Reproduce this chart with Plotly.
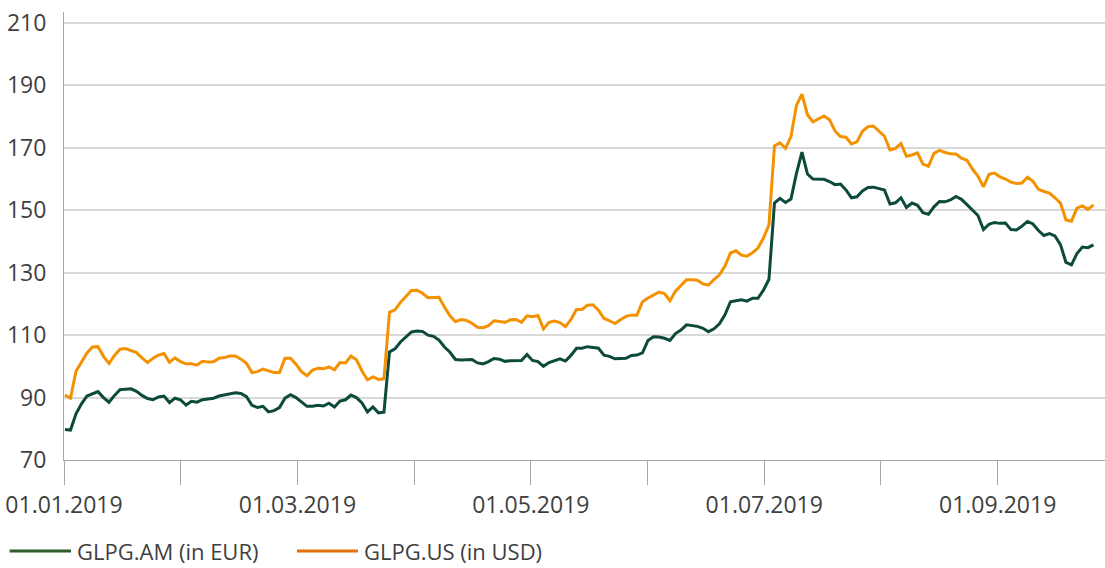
import plotly.graph_objects as go

# ---- data, one value per trading day ----
series_names = ["GLPG.AM (in EUR)", "GLPG.US (in USD)"]

glpg_am = [
    79.8, 79.6, 84.8, 88.0, 90.5, 91.3, 91.9, 90.0, 88.5, 90.7,
    92.5, 92.7, 92.8, 92.0, 90.7, 89.7, 89.3, 90.2, 90.5, 88.4,
    89.8, 89.3, 87.6, 88.8, 88.5, 89.3, 89.5, 89.8, 90.5, 90.8,
    91.3, 91.5, 91.3, 90.3, 87.5, 86.8, 87.2, 85.4, 85.8, 86.8,
    89.8, 90.9, 90.0, 88.5, 87.2, 87.2, 87.5, 87.3, 88.2, 87.0,
    88.9, 89.3, 90.8, 90.0, 88.3, 85.4, 87.0, 85.1, 85.3, 104.6,
    105.6, 107.8, 109.4, 111.0, 111.3, 111.2, 110.0, 109.6, 108.4, 106.2,
    104.5, 102.2, 102.0, 102.2, 102.2, 101.1, 100.8, 101.5, 102.5, 102.3,
    101.6, 101.8, 101.9, 101.9, 103.8, 101.9, 101.5, 100.0, 101.2, 101.7,
    102.4, 101.7, 103.5, 105.8, 105.8, 106.3, 106.1, 105.8, 103.6, 103.2,
    102.4, 102.6, 102.6, 103.5, 103.6, 104.3, 108.3, 109.5, 109.4, 109.0,
    108.3, 110.5, 111.6, 113.3, 113.1, 112.8, 112.2, 111.1, 112.0, 113.6,
    116.5, 120.7, 121.0, 121.3, 120.9, 121.8, 121.8, 124.4, 127.9, 152.3,
    153.8, 152.5, 153.6, 161.8, 168.6, 161.6, 160.0, 160.0, 159.9, 159.2,
    158.2, 158.4, 156.5, 154.0, 154.3, 156.2, 157.3, 157.4, 156.9, 156.5,
    152.0, 152.4, 154.0, 150.9, 152.3, 151.6, 149.2, 148.7, 151.1, 152.8,
    152.7, 153.3, 154.4, 153.5, 151.8, 149.9, 148.3, 143.8, 145.5, 146.1,
    145.8, 145.9, 143.8, 143.7, 144.9, 146.4, 145.6, 143.5, 141.9, 142.5,
    141.8, 139.0, 133.3, 132.5, 136.1, 138.2, 138.0, 138.9,
]

glpg_us = [
    90.8, 89.8, 98.4, 101.4, 104.3, 106.2, 106.3, 103.2, 100.9, 103.5,
    105.5, 105.7, 105.0, 104.4, 102.7, 101.2, 102.6, 103.6, 104.1, 101.3,
    102.7, 101.5, 100.8, 100.8, 100.4, 101.6, 101.4, 101.5, 102.6, 102.8,
    103.3, 103.3, 102.3, 101.0, 98.0, 98.3, 99.1, 98.6, 98.0, 98.0,
    102.6, 102.6, 100.7, 98.3, 97.0, 98.8, 99.4, 99.2, 99.8, 98.9,
    101.2, 101.1, 103.3, 102.1, 98.5, 95.7, 96.6, 95.8, 96.0, 117.3,
    118.1, 120.5, 122.4, 124.3, 124.4, 123.4, 122.0, 122.0, 122.1, 119.0,
    116.2, 114.3, 115.0, 114.7, 113.8, 112.5, 112.4, 113.0, 114.6, 114.4,
    114.1, 114.9, 115.0, 114.1, 116.2, 115.9, 116.3, 112.0, 114.1, 114.5,
    114.0, 112.7, 115.0, 118.2, 118.2, 119.6, 119.7, 118.0, 115.4, 114.6,
    113.7, 114.9, 116.0, 116.4, 116.4, 120.7, 121.9, 122.8, 123.8, 123.3,
    121.0, 124.1, 126.0, 127.7, 127.7, 127.6, 126.4, 126.0, 127.8, 129.3,
    132.1, 136.3, 137.0, 135.6, 135.3, 136.4, 137.9, 141.1, 145.3, 170.6,
    171.6, 169.8, 173.6, 183.6, 187.2, 180.6, 178.3, 179.2, 180.2, 179.0,
    175.4, 173.6, 173.4, 171.2, 171.9, 175.3, 176.8, 177.0, 175.3, 173.7,
    169.3, 169.8, 171.4, 167.3, 167.7, 168.4, 164.8, 164.1, 168.2, 169.2,
    168.5, 168.1, 168.0, 166.7, 166.0, 163.2, 160.9, 157.5, 161.5, 161.9,
    160.7, 160.0, 159.0, 158.6, 158.7, 160.6, 159.3, 156.7, 156.0, 155.5,
    154.0, 152.3, 146.9, 146.5, 150.7, 151.4, 150.3, 151.7,
]

month_labels = ["01.01.2019", "01.02.2019", "01.03.2019", "01.04.2019", "01.05.2019",
                "01.06.2019", "01.07.2019", "01.08.2019", "01.09.2019"]
y_ticks = [70, 90, 110, 130, 150, 170, 190, 210]

# ---- styling ----
GREEN = "#0c4a3c"
ORANGE = "#f39100"
LEG_GREEN = "#2f5c2a"
LEG_ORANGE = "#e2700c"
TEXT = "#3f3f3f"
GRID = "#d9d9d9"
AXIS = "#a6a6a6"
FONT = "Open Sans"
FS = 23
LEG_FS = 22

days_per_month = 21.22
first_tick = -0.18
tick_pos = [first_tick + k * days_per_month for k in range(len(month_labels))]
tick_text = [lab if k % 2 == 0 else "" for k, lab in enumerate(month_labels)]

x_idx = list(range(len(glpg_am)))

fig = go.Figure()
fig.add_trace(go.Scatter(x=x_idx, y=glpg_am, mode="lines", name=series_names[0],
                         line=dict(color=GREEN, width=3), showlegend=False))
fig.add_trace(go.Scatter(x=x_idx, y=glpg_us, mode="lines", name=series_names[1],
                         line=dict(color=ORANGE, width=3), showlegend=False))

fig.update_layout(
    width=1105, height=568,
    margin=dict(l=64, r=0, t=12, b=108),
    paper_bgcolor="white", plot_bgcolor="white",
    font=dict(family=FONT, size=FS, color=TEXT),
    showlegend=False,
)
fig.update_xaxes(
    range=[first_tick, 189.1],
    tickmode="array", tickvals=tick_pos, ticktext=tick_text,
    ticks="outside", ticklen=24, tickwidth=1, tickcolor=AXIS,
    showline=True, linecolor=AXIS, linewidth=1,
    showgrid=False, zeroline=False,
    ticklabelstandoff=0,
    tickfont=dict(family=FONT, size=FS, color=TEXT),
)
fig.update_yaxes(
    range=[70, 213.5],
    tickmode="array", tickvals=y_ticks,
    showgrid=True, gridcolor=GRID, gridwidth=1.5,
    showline=True, linecolor=AXIS, linewidth=1,
    ticks="", zeroline=False,
    ticklabelstandoff=12,
    tickfont=dict(family=FONT, size=FS, color=TEXT),
)

# manual legend (long line swatches like the reference)
leg_items = [
    (series_names[0], LEG_GREEN, -0.0523, 0.0067, 0.0115),
    (series_names[1], LEG_ORANGE, 0.2238, 0.2824, 0.2876),
]
leg_y = -0.203
for name, col, x0, x1, tx in leg_items:
    fig.add_shape(type="line", xref="paper", yref="paper", x0=x0, x1=x1, y0=leg_y, y1=leg_y,
                  line=dict(color=col, width=3))
    fig.add_annotation(xref="paper", yref="paper", x=tx, y=leg_y, text=name, showarrow=False,
                       xanchor="left", yanchor="middle", borderpad=0,
                       font=dict(family=FONT, size=LEG_FS, color=TEXT))

fig.write_html("out.html", config={"displayModeBar": False},
               post_script="document.body.style.margin='0';")
